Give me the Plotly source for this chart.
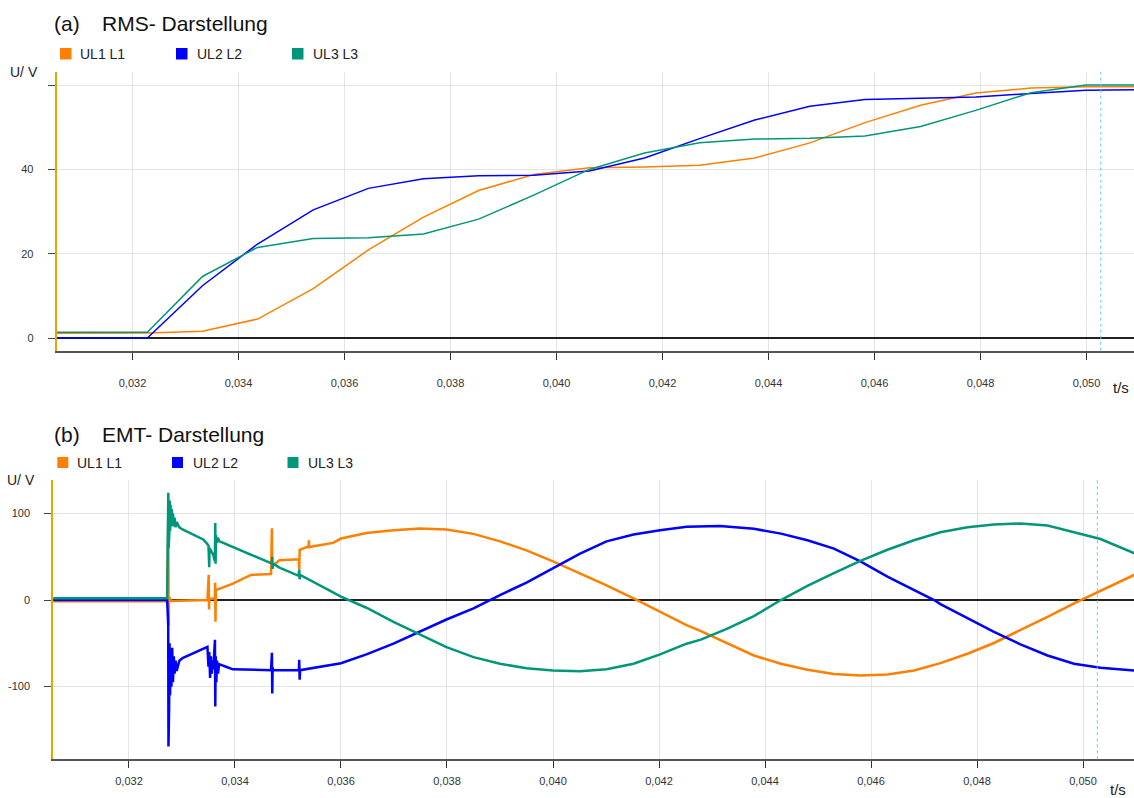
import plotly.graph_objects as go

W, H = 1134, 798

# ---------------- data ----------------
series_names = ["UL1 L1", "UL2 L2", "UL3 L3"]
series_colors = ["#FF8000", "#0000FF", "#00967A"]

# RMS panel (a)
t_rms = [0.0305, 0.03228, 0.03332, 0.03436, 0.03541, 0.03645, 0.03749, 0.03853,
         0.03957, 0.04062, 0.04166, 0.04270, 0.04374, 0.04478, 0.04582, 0.04687,
         0.04791, 0.04895, 0.04999, 0.0510]
ul1_rms = [1.1, 1.2, 1.6, 4.5, 11.7, 20.9, 28.7, 35.0, 38.8, 40.4, 40.6, 41.0,
           42.7, 46.3, 51.1, 55.2, 58.1, 59.3, 59.6, 59.6]
ul2_rms = [0.0, 0.0, 12.4, 22.3, 30.4, 35.5, 37.8, 38.5, 38.6, 39.6, 42.7, 47.3,
           51.7, 55.0, 56.6, 56.9, 57.2, 58.0, 58.8, 58.9]
ul3_rms = [1.35, 1.35, 14.6, 21.5, 23.6, 23.8, 24.7, 28.2, 33.9, 40.0, 43.9, 46.3,
           47.2, 47.4, 47.9, 50.2, 54.0, 58.2, 60.0, 60.0]

# EMT panel (b)
t_ul1_emt = [0.0305, 0.03272, 0.032742, 0.032748, 0.032754, 0.03279, 0.03348, 0.033505,
             0.03351, 0.033516, 0.03362, 0.033626, 0.033632, 0.03364, 0.03396, 0.0343,
             0.03468, 0.034696, 0.034702, 0.034713, 0.03484, 0.035205, 0.035212, 0.03522,
             0.03539, 0.035394, 0.0354, 0.03548, 0.03585, 0.036, 0.03648, 0.03699,
             0.03749, 0.03799, 0.0385, 0.039, 0.0395, 0.04, 0.04051, 0.04101,
             0.04152, 0.04202, 0.04252, 0.04279, 0.04329, 0.04379, 0.0443, 0.0448,
             0.0453, 0.0458, 0.04631, 0.04681, 0.04731, 0.04782, 0.04832, 0.04882,
             0.04933, 0.04983, 0.05033, 0.05096, 0.0510]
ul1_emt = [-1.5, -1.5, 98, -29, 4, -1, 0, 29,
           -11, 1, 2, 20, -25, 11.5, 19, 29,
           30, 83, 36, 40, 46, 47, 35, 58,
           62, 69, 61, 62, 66, 71, 77.5, 80.6,
           82.6, 81.4, 76.4, 67.8, 57.4, 44.6, 31, 17,
           1.9, -13.6, -29, -36, -50.4, -64, -73.6, -80.6,
           -85.3, -87.2, -86, -81.4, -72.9, -62, -49.6, -34.9,
           -19.4, -3.9, 10.9, 29, 30]

t_ul2_emt = [0.0305, 0.03272, 0.03274, 0.032745, 0.03275, 0.032757, 0.032765, 0.032775,
             0.032785, 0.0328, 0.032815, 0.03283, 0.032845, 0.03286, 0.03288, 0.0329,
             0.03295, 0.03301, 0.03348, 0.0335, 0.033515, 0.03353, 0.033545, 0.03356,
             0.033575, 0.03359, 0.033622, 0.033628, 0.033636, 0.033648, 0.03366, 0.03368,
             0.0337, 0.03383, 0.03396, 0.03468, 0.034697, 0.034703, 0.03471, 0.03472,
             0.035205, 0.035212, 0.03522, 0.035228, 0.036, 0.03648, 0.03699, 0.03749,
             0.03799, 0.0385, 0.03881, 0.039, 0.0395, 0.04, 0.04051, 0.04101,
             0.04152, 0.04202, 0.04252, 0.04315, 0.04379, 0.0443, 0.0448, 0.0453,
             0.0458, 0.04631, 0.04681, 0.04719, 0.04731, 0.04782, 0.04832, 0.04882,
             0.04933, 0.04983, 0.05033, 0.05096, 0.0510]
ul2_emt = [0, 0, -29, -169, -40, -125, -50, -110,
           -60, -100, -55, -95, -65, -85, -70, -82,
           -70, -67, -54, -77, -60, -90, -65, -85,
           -70, -80, -46, -123, -65, -95, -70, -85,
           -74, -77, -80, -81, -61, -108, -78, -81,
           -81, -69, -92, -81, -73, -62.8, -50.4, -36.8,
           -22.5, -9.7, 0, 5.8, 20.2, 36.8, 53.5, 67.8,
           75.6, 80.6, 84.5, 85.5, 82.2, 76.7, 69, 59.3,
           44.6, 27, 11.6, 0, -4.7, -21.3, -36.8, -51.2,
           -64, -73.6, -78.3, -81.4, -81.5]

t_ul3_emt = [0.0305, 0.03272, 0.032742, 0.032748, 0.032754, 0.03276, 0.032768, 0.032776,
             0.032785, 0.032795, 0.032805, 0.032815, 0.03283, 0.032845, 0.03286, 0.03288,
             0.0329, 0.03295, 0.03301, 0.0334, 0.03346, 0.0335, 0.033514, 0.03352,
             0.03359, 0.03362, 0.033628, 0.033634, 0.03364, 0.03366, 0.03368, 0.0337,
             0.033956, 0.0343, 0.0347, 0.034703, 0.034707, 0.03472, 0.03484, 0.0352,
             0.035212, 0.03522, 0.03523, 0.036, 0.03614, 0.03648, 0.03699, 0.03749,
             0.03799, 0.0385, 0.039, 0.0395, 0.04, 0.04051, 0.04101, 0.04152,
             0.04202, 0.04252, 0.04279, 0.04329, 0.04379, 0.0443, 0.0448, 0.0453,
             0.0458, 0.04631, 0.04681, 0.04731, 0.04782, 0.04832, 0.04882, 0.04933,
             0.04983, 0.05033, 0.05096, 0.0510]
ul3_emt = [2, 2, 124, 60, 120, 75, 115, 80,
           110, 85, 105, 88, 100, 85, 95, 84,
           90, 84, 81.5, 70, 66, 63, 38, 60,
           52, 45, 89, 42, 75, 66, 72, 68,
           61.5, 52, 42, 50, 36, 42, 37.5, 28,
           35, 24, 29, 3.9, 0, -8.9, -25.2, -39.9,
           -54.3, -65.9, -73.6, -78.7, -81.4, -82.2, -79.8, -73.6,
           -62.8, -50.4, -45.7, -32.9, -18.6, 0, 16.3, 31,
           45.3, 58.1, 69, 78.3, 84.1, 87.2, 88.4, 86,
           78.7, 70.5, 54.3, 53]

x_tickvals = [0.032, 0.034, 0.036, 0.038, 0.040, 0.042, 0.044, 0.046, 0.048, 0.050]
x_ticktext = ["0,032", "0,034", "0,036", "0,038", "0,040", "0,042", "0,044",
              "0,046", "0,048", "0,050"]
y1_tickvals = [0, 20, 40, 60]
y1_ticktext = ["0", "20", "40", ""]
y2_tickvals = [-100, 0, 100]
y2_ticktext = ["-100", "0", "100"]

t_cursor = 0.05027

# ---------------- helpers ----------------
def PX(x):
    return x / W

def PY(y):
    return 1 - y / H

FONT = "Liberation Sans, Arial, sans-serif"

fig = go.Figure()

rms_sets = [ul1_rms, ul2_rms, ul3_rms]
for name, col, vals in zip(series_names, series_colors, rms_sets):
    fig.add_trace(go.Scatter(x=t_rms, y=vals, mode="lines", name=name,
                             line=dict(color=col, width=1.5),
                             xaxis="x", yaxis="y", showlegend=False))

emt_sets = [(t_ul1_emt, ul1_emt), (t_ul2_emt, ul2_emt), (t_ul3_emt, ul3_emt)]
for name, col, (tt, vals) in zip(series_names, series_colors, emt_sets):
    fig.add_trace(go.Scatter(x=tt, y=vals, mode="lines", name=name,
                             line=dict(color=col, width=2.5),
                             xaxis="x2", yaxis="y2", showlegend=False))

common_x = dict(tickvals=x_tickvals, ticktext=x_ticktext, showgrid=True,
                gridcolor="#E4E4E4", gridwidth=1, showline=True, linecolor="#555555",
                linewidth=2, ticks="outside", ticklen=7, tickwidth=1.2, tickcolor="#333333",
                tickfont=dict(size=11, color="#333333", family=FONT), zeroline=False)
common_y = dict(showgrid=True, gridcolor="#E4E4E4", gridwidth=1, showline=True,
                linecolor="#E6A500", linewidth=2, ticks="outside", ticklen=7,
                tickwidth=1.2, tickcolor="#444444",
                tickfont=dict(size=11, color="#333333", family=FONT),
                zeroline=True, zerolinecolor="#222222", zerolinewidth=1.5,
                ticklabelstandoff=12)

fig.update_layout(
    width=W, height=H,
    margin=dict(l=0, r=0, t=0, b=0),
    paper_bgcolor="white", plot_bgcolor="white",
    font=dict(family=FONT, color="#222222"),
    xaxis=dict(domain=[PX(56.7), 1], range=[0.03057, 0.050896], anchor="y",
               ticklabelstandoff=14, **common_x),
    yaxis=dict(domain=[PY(350.7), PY(71.7)], range=[-3.01, 63.18], anchor="x",
               tickvals=y1_tickvals, ticktext=y1_ticktext, **common_y),
    xaxis2=dict(domain=[PX(53.3), 1], range=[0.030572, 0.050962], anchor="y2",
                ticklabelstandoff=3, **common_x),
    yaxis2=dict(domain=[PY(759.3), PY(480)], range=[-183.9, 138.6], anchor="x2",
                tickvals=y2_tickvals, ticktext=y2_ticktext, **common_y),
)

shapes = []
# cursor lines
shapes.append(dict(type="line", xref="x", yref="y domain", x0=t_cursor, x1=t_cursor,
                   y0=0, y1=1, line=dict(color="#5CCBF2", width=1, dash="dot")))
shapes.append(dict(type="line", xref="x2", yref="y2 domain", x0=t_cursor, x1=t_cursor,
                   y0=0, y1=1, line=dict(color="#7FBFE6", width=1, dash="dot")))

annotations = []

def legend_block(sq_x, txt_x, y_top, size):
    for sx, tx, col, name in zip(sq_x, txt_x, series_colors, series_names):
        shapes.append(dict(type="rect", xref="paper", yref="paper",
                           x0=PX(sx), x1=PX(sx + size), y0=PY(y_top + size), y1=PY(y_top),
                           fillcolor=col, line=dict(width=0)))
        annotations.append(dict(xref="paper", yref="paper", x=PX(tx), y=PY(y_top + size / 2),
                                xanchor="left", yanchor="middle", showarrow=False,
                                text=name, font=dict(size=14, color="#222222", family=FONT)))

legend_block([60, 176, 292], [78, 195, 311], 48, 11.5)
legend_block([57.3, 172, 287.5], [75, 191, 306], 457, 11)

def title(prefix, label, y_mid):
    annotations.append(dict(xref="paper", yref="paper", x=PX(52), y=PY(y_mid),
                            xanchor="left", yanchor="middle", showarrow=False, text=prefix,
                            font=dict(size=21, color="#111111", family=FONT)))
    annotations.append(dict(xref="paper", yref="paper", x=PX(100), y=PY(y_mid),
                            xanchor="left", yanchor="middle", showarrow=False, text=label,
                            font=dict(size=21, color="#111111", family=FONT)))

title("(a)", "RMS- Darstellung", 23.5)
title("(b)", "EMT- Darstellung", 434)

for xr, ym in [(40, 72), (37, 480)]:
    annotations.append(dict(xref="paper", yref="paper", x=PX(xr), y=PY(ym),
                            xanchor="right", yanchor="middle", showarrow=False, text="U/ V",
                            font=dict(size=14, color="#222222", family=FONT)))
for xc, ym in [(1121, 387), (1118, 789)]:
    annotations.append(dict(xref="paper", yref="paper", x=PX(xc), y=PY(ym),
                            xanchor="center", yanchor="middle", showarrow=False, text="t/s",
                            font=dict(size=15, color="#222222", family=FONT)))

fig.update_layout(shapes=shapes, annotations=annotations)
fig.write_html("out.html",
               config={"displayModeBar": False},
               post_script="document.body.style.margin='0';"
                           "document.body.style.overflow='hidden';")
